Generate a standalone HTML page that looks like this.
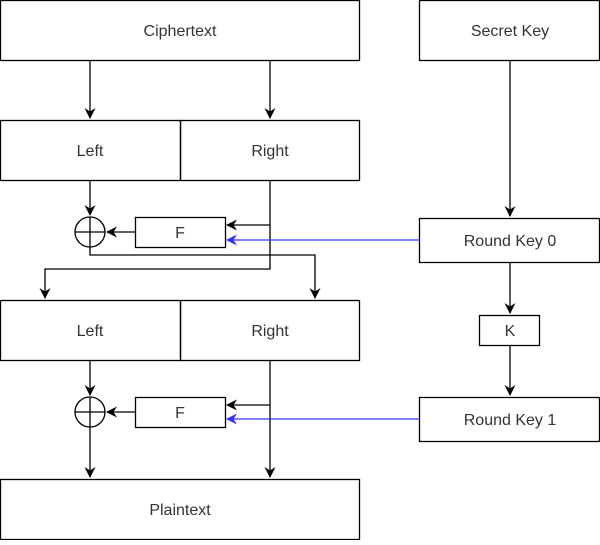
<!DOCTYPE html>
<html><head><meta charset="utf-8"><style>body{margin:0;background:#fff}</style></head><body>
<svg width="600" height="540" viewBox="0 0 600 540" xmlns="http://www.w3.org/2000/svg" font-family="Liberation Sans, sans-serif" font-size="16" fill="none">
<defs>
<marker id="a" markerWidth="12" markerHeight="12" refX="10" refY="6" orient="auto" markerUnits="userSpaceOnUse"><path d="M0,0.5 L11,6 L0,11.5 L3.5,6 Z" fill="#000"/></marker>
<marker id="b" markerWidth="12" markerHeight="12" refX="10" refY="6" orient="auto" markerUnits="userSpaceOnUse"><path d="M0,0.5 L11,6 L0,11.5 L3.5,6 Z" fill="#33f"/></marker>
</defs>
<g stroke="#000" stroke-width="1.3">
<rect x="0.5" y="0.5" width="359" height="60"/>
<rect x="419.5" y="0.5" width="180" height="60"/>
<rect x="0.5" y="120.5" width="180" height="60"/>
<rect x="180.5" y="120.5" width="179" height="60"/>
<rect x="0.5" y="300.5" width="180" height="60"/>
<rect x="180.5" y="300.5" width="179" height="60"/>
<rect x="0.5" y="479.5" width="359" height="60"/>
<rect x="135.5" y="217.5" width="90" height="30"/>
<rect x="135.5" y="397.5" width="90" height="30"/>
<rect x="419.5" y="218.5" width="180" height="44"/>
<rect x="479.5" y="315.5" width="60" height="30"/>
<rect x="419.5" y="397.5" width="180" height="44"/>
<circle cx="90" cy="232" r="15"/><path d="M75,232H105M90,217V247"/>
<circle cx="90" cy="412" r="15"/><path d="M75,412H105M90,397V427"/>
<path d="M90,60V118" marker-end="url(#a)"/>
<path d="M270,60V118" marker-end="url(#a)"/>
<path d="M510,60V216" marker-end="url(#a)"/>
<path d="M510,262V313" marker-end="url(#a)"/>
<path d="M510,345V395" marker-end="url(#a)"/>
<path d="M90,180V215" marker-end="url(#a)"/>
<path d="M135,232H107" marker-end="url(#a)"/>
<path d="M270,180V269H45V298" marker-end="url(#a)"/>
<path d="M270,225H227" marker-end="url(#a)"/>
<path d="M90,247V255H315V298" marker-end="url(#a)"/>
<path d="M90,360V395" marker-end="url(#a)"/>
<path d="M135,412H107" marker-end="url(#a)"/>
<path d="M270,360V477" marker-end="url(#a)"/>
<path d="M270,405H227" marker-end="url(#a)"/>
<path d="M90,427V477" marker-end="url(#a)"/>
</g>
<g stroke="#33f" stroke-width="1.3">
<path d="M419,240H227" marker-end="url(#b)"/>
<path d="M419,419H227" marker-end="url(#b)"/>
</g>
<g fill="#333" stroke="none" text-anchor="middle" font-size="16">
<text x="180" y="36">Ciphertext</text>
<text x="510" y="36">Secret Key</text>
<text x="90" y="156">Left</text>
<text x="270" y="156">Right</text>
<text x="90" y="336">Left</text>
<text x="270" y="336">Right</text>
<text x="180" y="515">Plaintext</text>
<text x="180" y="238">F</text>
<text x="180" y="418">F</text>
<text x="510" y="246">Round Key 0</text>
<text x="510" y="336">K</text>
<text x="510" y="425">Round Key 1</text>
</g>
</svg>
</body></html>
